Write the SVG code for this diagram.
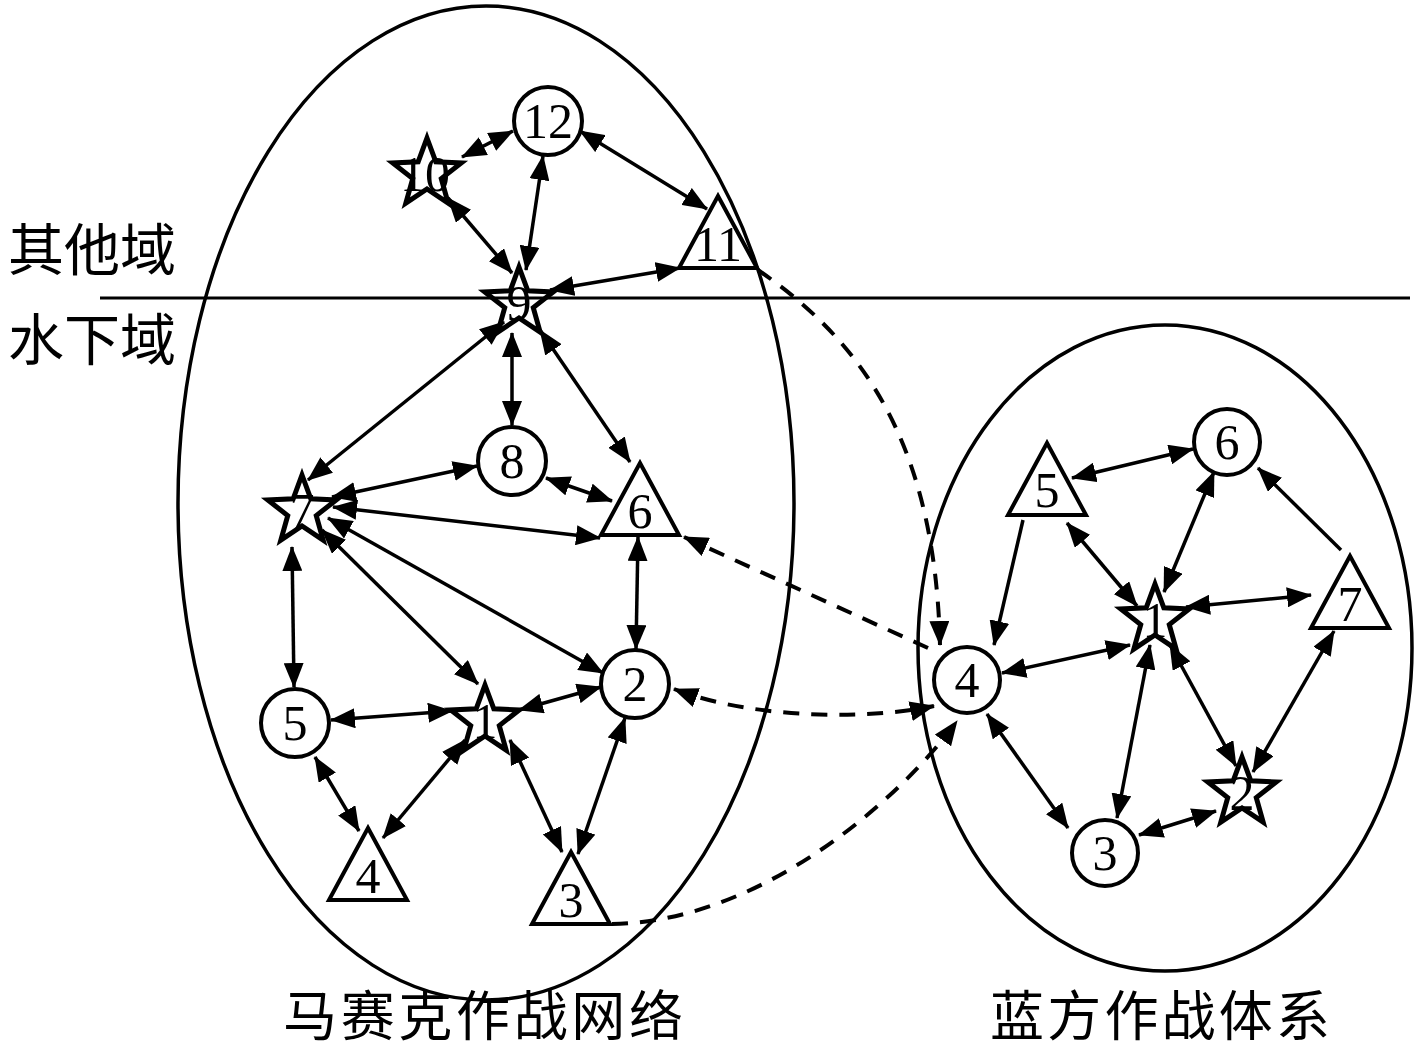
<svg xmlns="http://www.w3.org/2000/svg" xmlns:xlink="http://www.w3.org/1999/xlink" width="1417" height="1058" viewBox="0 0 1417 1058">
<style>
.bg{fill:#fff}
.ell{fill:none;stroke:#000;stroke-width:3.5}
.sep{stroke:#000;stroke-width:3}
.nd{fill:#fff;stroke:#000;stroke-width:4}
.st{fill:none;stroke:#000;stroke-width:5;stroke-linejoin:miter}
.lb{font-family:"Liberation Serif","Times New Roman",serif;font-size:50px;text-anchor:middle;fill:#000}
.cn{font-family:"Noto Sans CJK SC","Noto Sans CJK JP",sans-serif;font-size:56px;fill:#000}
.cb{font-family:"Noto Sans CJK SC","Noto Sans CJK JP",sans-serif;font-size:54px;fill:#000}
.e{stroke:#000;stroke-width:3.5;fill:none;marker-end:url(#ah);marker-start:url(#ah)}
.e1{stroke:#000;stroke-width:3.5;fill:none;marker-end:url(#ah)}
.d{stroke:#000;stroke-width:4;fill:none;stroke-dasharray:16 12;marker-end:url(#ah)}
.d2{stroke:#000;stroke-width:4;fill:none;stroke-dasharray:16 12;marker-end:url(#ah);marker-start:url(#ah)}
</style>
<defs>
<marker id="ah" markerUnits="userSpaceOnUse" markerWidth="25" markerHeight="20" refX="24" refY="10" orient="auto-start-reverse" viewBox="0 0 25 20">
<path d="M0,0 L25,10 L0,20 z" fill="#000"/>
</marker>
<polygon id="star" points="0,-36 8.82,-12.14 34.24,-11.12 14.27,4.64 21.16,29.12 0,15 -21.16,29.12 -14.27,4.64 -34.24,-11.12 -8.82,-12.14"/>
<polygon id="tri" points="0,0 39,72 -39,72"/>
</defs>
<rect class="bg" x="0" y="0" width="1417" height="1058"/>

<g id="frame">
<ellipse class="ell" cx="486" cy="503" rx="308" ry="497"/>
<ellipse class="ell" cx="1165" cy="648" rx="247" ry="323"/>
<line class="sep" x1="100" y1="298" x2="1410" y2="298"/>
<text class="cn" x="8" y="270">其他域</text>
<text class="cn" x="8" y="360">水下域</text>
<text class="cb" x="283" y="1036" textLength="400">马赛克作战网络</text>
<text class="cb" x="990" y="1036" textLength="340">蓝方作战体系</text>
</g>

<g id="connectors">
<!-- left network -->
<line class="e" x1="462" y1="157" x2="513" y2="131"/>
<line class="e" x1="543" y1="156" x2="526" y2="270"/>
<line class="e" x1="580" y1="131" x2="707" y2="209"/>
<line class="e" x1="448" y1="198" x2="512" y2="273"/>
<line class="e" x1="680" y1="268" x2="550" y2="290"/>
<line class="e" x1="504" y1="322" x2="308" y2="480"/>
<line class="e" x1="512" y1="333" x2="512" y2="425"/>
<line class="e" x1="540" y1="330" x2="630" y2="462"/>
<line class="e" x1="332" y1="497" x2="477" y2="466"/>
<line class="e" x1="546" y1="478" x2="612" y2="501"/>
<line class="e" x1="333" y1="507" x2="600" y2="538"/>
<line class="e" x1="322" y1="530" x2="478" y2="684"/>
<line class="e" x1="328" y1="518" x2="603" y2="673"/>
<line class="e" x1="292" y1="547" x2="294" y2="687"/>
<line class="e" x1="638" y1="537" x2="636" y2="649"/>
<line class="e" x1="331" y1="720" x2="452" y2="711"/>
<line class="e" x1="519" y1="710" x2="601" y2="687"/>
<line class="e" x1="315" y1="757" x2="359" y2="831"/>
<line class="e" x1="465" y1="740" x2="383" y2="838"/>
<line class="e" x1="510" y1="740" x2="562" y2="852"/>
<line class="e" x1="625" y1="718" x2="578" y2="854"/>
<!-- right network -->
<line class="e" x1="1072" y1="478" x2="1193" y2="449"/>
<line class="e1" x1="1023" y1="520" x2="994" y2="645"/>
<line class="e" x1="1067" y1="523" x2="1137" y2="606"/>
<line class="e" x1="1214" y1="472" x2="1164" y2="592"/>
<line class="e1" x1="1341" y1="550" x2="1258" y2="468"/>
<line class="e" x1="1311" y1="595" x2="1186" y2="607"/>
<line class="e" x1="1334" y1="631" x2="1253" y2="772"/>
<line class="e" x1="1130" y1="645" x2="1002" y2="673"/>
<line class="e" x1="1150" y1="645" x2="1117" y2="818"/>
<line class="e" x1="1170" y1="645" x2="1236" y2="766"/>
<line class="e" x1="987" y1="714" x2="1068" y2="828"/>
<line class="e" x1="1139" y1="835" x2="1216" y2="811"/>
<!-- dashed cross links -->
<path class="d" d="M758 270 C860 340 935 440 940 645"/>
<path class="d" d="M928 648 L684 537"/>
<path class="d2" d="M674 689 C760 722 880 718 934 706"/>
<path class="d" d="M612 924 C760 922 900 800 957 721"/>
</g>

<g id="n12"><circle class="nd" cx="548" cy="121" r="34"/><text class="lb" x="548" y="138">12</text></g>
<g id="n10"><use href="#star" class="st" x="427" y="174"/><text class="lb" x="425" y="191">10</text></g>
<g id="n11"><use href="#tri" class="nd" x="718" y="196"/><text class="lb" x="718" y="261">11</text></g>
<g id="n9"><use href="#star" class="st" x="519" y="303"/><text class="lb" x="519" y="320">9</text></g>
<g id="n8"><circle class="nd" cx="512" cy="461" r="34"/><text class="lb" x="512" y="478">8</text></g>
<g id="n7"><use href="#star" class="st" x="302" y="511"/><text class="lb" x="302" y="528">7</text></g>
<g id="n6"><use href="#tri" class="nd" x="640" y="463"/><text class="lb" x="640" y="528">6</text></g>
<g id="n2"><circle class="nd" cx="635" cy="684" r="34"/><text class="lb" x="635" y="701">2</text></g>
<g id="n5"><circle class="nd" cx="295" cy="723" r="34"/><text class="lb" x="295" y="740">5</text></g>
<g id="n1"><use href="#star" class="st" x="485" y="721"/><text class="lb" x="485" y="738">1</text></g>
<g id="n4"><use href="#tri" class="nd" x="368" y="828"/><text class="lb" x="368" y="893">4</text></g>
<g id="n3"><use href="#tri" class="nd" x="571" y="852"/><text class="lb" x="571" y="917">3</text></g>

<g id="b6"><circle class="nd" cx="1227" cy="442" r="33"/><text class="lb" x="1227" y="459">6</text></g>
<g id="b5"><use href="#tri" class="nd" x="1047" y="443"/><text class="lb" x="1047" y="507">5</text></g>
<g id="b7"><use href="#tri" class="nd" x="1350" y="556"/><text class="lb" x="1350" y="621">7</text></g>
<g id="b1"><use href="#star" class="st" x="1155" y="620"/><text class="lb" x="1155" y="637">1</text></g>
<g id="b4"><circle class="nd" cx="967" cy="680" r="33"/><text class="lb" x="967" y="697">4</text></g>
<g id="b2"><use href="#star" class="st" x="1242" y="793"/><text class="lb" x="1242" y="810">2</text></g>
<g id="b3"><circle class="nd" cx="1105" cy="853" r="33"/><text class="lb" x="1105" y="870">3</text></g>
</svg>
